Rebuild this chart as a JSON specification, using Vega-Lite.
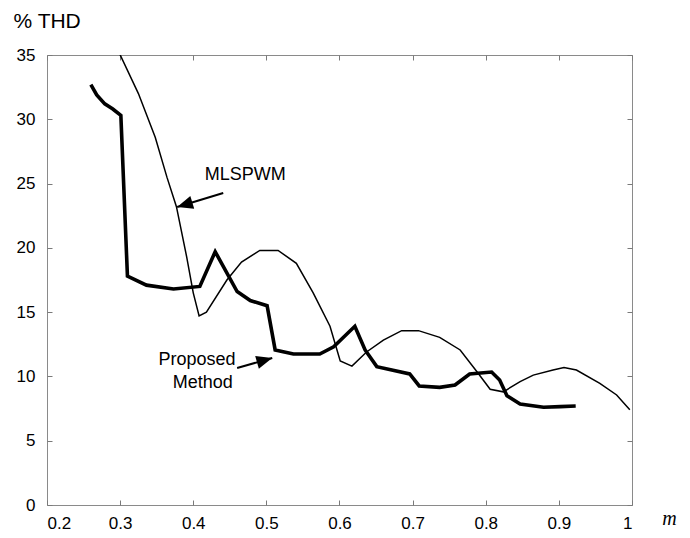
{
  "$schema": "https://vega.github.io/schema/vega-lite/v6.json",
  "width": 585,
  "height": 450,
  "autosize": {"type": "none"},
  "padding": {"left": 47, "top": 55, "right": 58, "bottom": 33},
  "background": "white",
  "config": {
    "view": {"stroke": "#8a8a8a", "strokeWidth": 1},
    "font": "Liberation Sans",
    "axis": {"grid": false, "domain": false, "tickColor": "#7a7a7a", "tickSize": -5, "tickWidth": 1, "labelColor": "black", "labelFont": "Liberation Sans", "labelFontSize": 17}
  },
  "datasets": {
    "proposed": [
      {"m": 0.260, "v": 32.7}, {"m": 0.268, "v": 31.9}, {"m": 0.279, "v": 31.2}, {"m": 0.290, "v": 30.8}, {"m": 0.301, "v": 30.3},
      {"m": 0.310, "v": 17.8}, {"m": 0.336, "v": 17.1}, {"m": 0.373, "v": 16.8}, {"m": 0.409, "v": 17.0}, {"m": 0.430, "v": 19.7},
      {"m": 0.460, "v": 16.6}, {"m": 0.478, "v": 15.9}, {"m": 0.501, "v": 15.5}, {"m": 0.512, "v": 12.06}, {"m": 0.537, "v": 11.74},
      {"m": 0.573, "v": 11.74}, {"m": 0.592, "v": 12.3}, {"m": 0.621, "v": 13.9}, {"m": 0.635, "v": 12.06}, {"m": 0.651, "v": 10.76},
      {"m": 0.696, "v": 10.19}, {"m": 0.709, "v": 9.26}, {"m": 0.737, "v": 9.15}, {"m": 0.758, "v": 9.33}, {"m": 0.778, "v": 10.19},
      {"m": 0.808, "v": 10.34}, {"m": 0.819, "v": 9.72}, {"m": 0.829, "v": 8.5}, {"m": 0.847, "v": 7.86}, {"m": 0.879, "v": 7.6},
      {"m": 0.902, "v": 7.65}, {"m": 0.923, "v": 7.7}
    ],
    "mlspwm": [
      {"m": 0.296, "v": 35.5}, {"m": 0.325, "v": 32.0}, {"m": 0.348, "v": 28.6}, {"m": 0.364, "v": 25.5}, {"m": 0.377, "v": 23.2},
      {"m": 0.391, "v": 19.3}, {"m": 0.400, "v": 16.5}, {"m": 0.408, "v": 14.7}, {"m": 0.418, "v": 15.0}, {"m": 0.446, "v": 17.5},
      {"m": 0.466, "v": 18.9}, {"m": 0.491, "v": 19.8}, {"m": 0.516, "v": 19.8}, {"m": 0.541, "v": 18.8}, {"m": 0.564, "v": 16.5},
      {"m": 0.587, "v": 13.9}, {"m": 0.601, "v": 11.2}, {"m": 0.617, "v": 10.8}, {"m": 0.637, "v": 11.9}, {"m": 0.660, "v": 12.83},
      {"m": 0.685, "v": 13.56}, {"m": 0.708, "v": 13.56}, {"m": 0.737, "v": 13.04}, {"m": 0.765, "v": 12.06}, {"m": 0.788, "v": 10.37},
      {"m": 0.806, "v": 9.0}, {"m": 0.824, "v": 8.8}, {"m": 0.847, "v": 9.6}, {"m": 0.865, "v": 10.1}, {"m": 0.892, "v": 10.5},
      {"m": 0.907, "v": 10.7}, {"m": 0.924, "v": 10.5}, {"m": 0.956, "v": 9.46}, {"m": 0.979, "v": 8.56}, {"m": 0.997, "v": 7.4}
    ],
    "labels": [
      {"m": 0.471, "v": 25.67, "text": "MLSPWM"},
      {"m": 0.405, "v": 11.28, "text": "Proposed"},
      {"m": 0.413, "v": 9.49, "text": "Method"}
    ],
    "arrows": [
      {"m": 0.441, "v": 24.27, "m2": 0.378, "v2": 23.18, "angle": 253},
      {"m": 0.460, "v": 10.66, "m2": 0.508, "v2": 11.43, "angle": 74}
    ]
  },
  "layer": [
    {
      "data": {"name": "mlspwm"},
      "mark": {"type": "line", "color": "black", "strokeWidth": 1.5, "clip": true},
      "encoding": {
        "x": {"field": "m", "type": "quantitative", "scale": {"domain": [0.2, 1], "nice": false},
          "axis": {"orient": "top", "labels": false, "values": [0.2, 0.3, 0.4, 0.5, 0.6, 0.7, 0.8, 0.9, 1], "title": null}},
        "y": {"field": "v", "type": "quantitative", "scale": {"domain": [0, 35], "nice": false},
          "axis": {"orient": "right", "labels": false, "values": [0, 5, 10, 15, 20, 25, 30, 35], "title": null}}
      }
    },
    {
      "data": {"name": "proposed"},
      "mark": {"type": "line", "color": "black", "strokeWidth": 3.6, "strokeJoin": "miter", "clip": true},
      "encoding": {
        "x": {"field": "m", "type": "quantitative",
          "axis": {"orient": "bottom", "values": [0.2, 0.3, 0.4, 0.5, 0.6, 0.7, 0.8, 0.9, 1], "format": "~g", "labelPadding": 15,
            "title": "m", "titleFont": "Liberation Serif", "titleFontStyle": "italic", "titleFontWeight": "normal", "titleFontSize": 20,
            "titleX": 622, "titleY": 13, "titleBaseline": "middle", "titleAlign": "center"}},
        "y": {"field": "v", "type": "quantitative",
          "axis": {"orient": "left", "values": [0, 5, 10, 15, 20, 25, 30, 35], "labelPadding": 17,
            "title": "% THD", "titleAngle": 0, "titleFont": "Liberation Sans", "titleFontWeight": "normal", "titleFontSize": 21,
            "titleX": -34, "titleY": -34, "titleAlign": "left", "titleBaseline": "middle"}}
      }
    },
    {
      "data": {"name": "arrows"},
      "mark": {"type": "rule", "color": "black", "strokeWidth": 2},
      "encoding": {
        "x": {"field": "m", "type": "quantitative", "axis": null},
        "y": {"field": "v", "type": "quantitative", "axis": null},
        "x2": {"field": "m2"},
        "y2": {"field": "v2"}
      }
    },
    {
      "data": {"name": "arrows"},
      "mark": {"type": "point", "shape": "M0,0L-0.42,1L0.42,1Z", "filled": true, "color": "black", "opacity": 1, "size": 1000},
      "encoding": {
        "x": {"field": "m2", "type": "quantitative", "axis": null},
        "y": {"field": "v2", "type": "quantitative", "axis": null},
        "angle": {"field": "angle", "type": "quantitative", "scale": null}
      }
    },
    {
      "data": {"name": "labels"},
      "mark": {"type": "text", "font": "Liberation Sans", "fontSize": 18, "color": "black", "align": "center", "baseline": "middle"},
      "encoding": {
        "x": {"field": "m", "type": "quantitative", "axis": null},
        "y": {"field": "v", "type": "quantitative", "axis": null},
        "text": {"field": "text"}
      }
    }
  ]
}
